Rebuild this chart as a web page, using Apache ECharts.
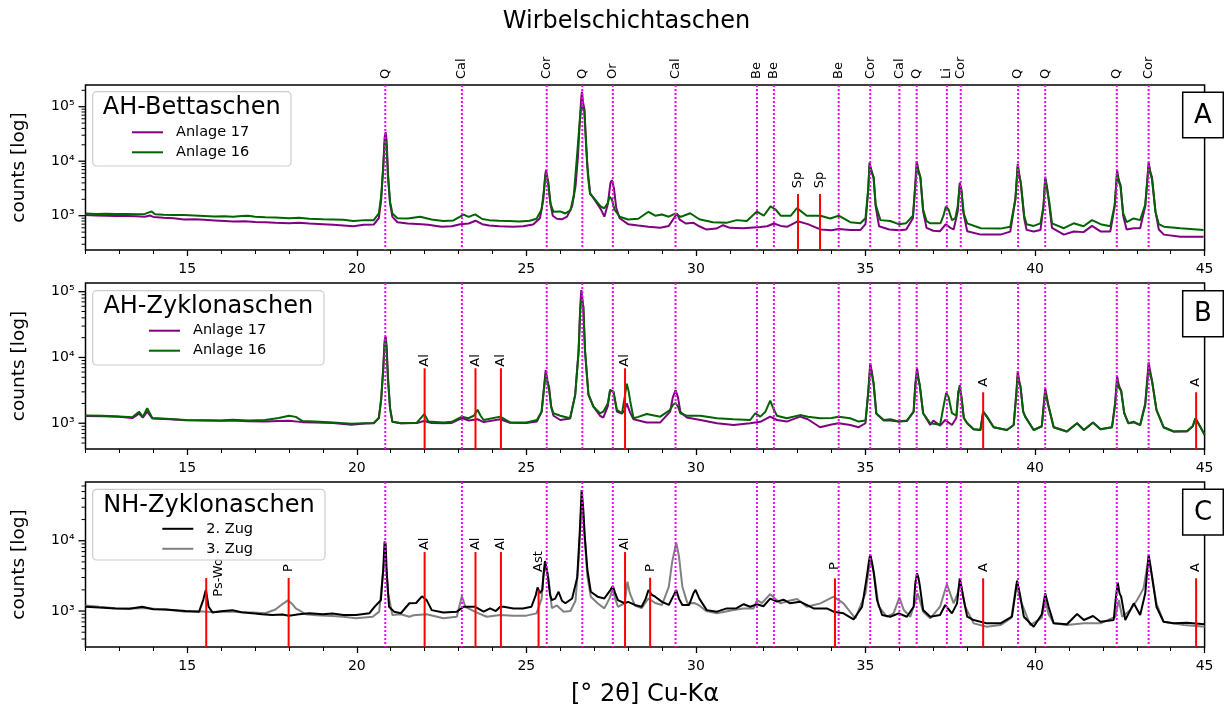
<!DOCTYPE html>
<html><head><meta charset="utf-8">
<script src="https://cdn.jsdelivr.net/npm/echarts@6/dist/echarts.min.js"></script>
<style>html,body{margin:0;padding:0;background:#fff}#c{width:1224px;height:711px}</style>
</head><body><div id="c"></div>
<script>
// ---------- tick values / labels ----------
const xMajorTicks = [15, 20, 25, 30, 35, 40, 45];
const yMajorTicks = [1000, 10000, 100000];
const yMinorTicks = [200,300,400,500,600,700,800,900,2000,3000,4000,5000,6000,7000,8000,9000,
  20000,30000,40000,50000,60000,70000,80000,90000,200000];
const supDigits = {2:'²',3:'³',4:'⁴',5:'⁵'};

// ---------- phase reference lines (all panels) ----------
const phaseX     = [20.84, 23.10, 25.60, 26.65, 27.55, 29.40, 31.80, 32.30, 34.21, 35.14, 36.00, 36.51, 37.40, 37.81, 39.50, 40.30, 42.41, 43.35];
const phaseNames = ['Q','Cal','Cor','Q','Or','Cal','Be','Be','Be','Cor','Cal','Q','Li','Cor','Q','Q','Q','Cor'];

// ---------- red marker lines: [x, top, labelX, labelY] ----------
const redA = [[33.01, 2500, 33.01, 3180], [33.66, 2500, 33.66, 3180]];
const redALabels = ['Sp', 'Sp'];
const redB = [[22.00, 6850, 22.00, 7240], [23.50, 6850, 23.50, 7240], [24.25, 6850, 24.25, 7240], [27.91, 6850, 27.91, 7240],
              [38.47, 2960, 38.47, 3600], [44.75, 2960, 44.75, 3600]];
const redBLabels = ['Al', 'Al', 'Al', 'Al', 'A', 'A'];
const redC = [[15.56, 2950, 15.94, 1600], [17.99, 2950, 17.99, 3600], [22.00, 6900, 22.00, 7370], [23.50, 6900, 23.50, 7370],
              [24.25, 6900, 24.25, 7370], [25.36, 2000, 25.36, 3600], [27.91, 6900, 27.91, 7370], [28.65, 2970, 28.65, 3600],
              [34.10, 2920, 34.10, 3830], [38.47, 2920, 38.47, 3600], [44.75, 2920, 44.75, 3600]];
const redCLabels = ['Ps-Wo', 'P', 'Al', 'Al', 'Al', 'Ast', 'Al', 'P', 'P', 'A', 'A'];

// ---------- panel A: AH-Bettaschen ----------
const a17 = [[12.0,1030],[12.3,1010],[12.6,1000],[12.9,990],[13.2,985],[13.5,975],[13.75,960],[13.9,1010],[14.0,950],[14.3,920],[14.6,900],[14.9,850],[15.2,860],[15.5,840],[15.8,820],[16.1,800],[16.35,780],[16.7,790],[17.0,770],[17.3,760],[17.6,740],[18.0,725],[18.3,740],[18.6,720],[19.0,700],[19.3,680],[19.6,660],[19.9,640],[20.2,680],[20.5,690],[20.65,900],[20.72,2000],[20.78,8000],[20.82,27000],[20.85,34000],[20.88,24000],[20.92,6000],[20.98,1700],[21.05,950],[21.2,760],[21.5,720],[21.9,700],[22.1,680],[22.5,630],[22.8,640],[23.05,700],[23.3,720],[23.5,810],[23.7,700],[23.9,660],[24.2,640],[24.6,630],[24.9,640],[25.2,690],[25.4,900],[25.5,2000],[25.55,5000],[25.58,6900],[25.62,5000],[25.65,4100],[25.7,1800],[25.78,1000],[25.9,880],[26.05,860],[26.2,960],[26.35,1500],[26.45,3500],[26.52,12000],[26.58,60000],[26.62,150000],[26.64,188000],[26.67,120000],[26.71,93000],[26.75,30000],[26.8,8000],[26.88,2600],[27.0,2000],[27.2,1300],[27.3,960],[27.4,1600],[27.48,4000],[27.52,4500],[27.58,3300],[27.65,1400],[27.75,900],[28.0,700],[28.3,660],[28.6,630],[28.95,600],[29.2,650],[29.35,900],[29.44,1100],[29.52,850],[29.7,720],[29.93,740],[30.1,640],[30.3,560],[30.6,580],[30.8,670],[31.0,600],[31.4,590],[31.9,620],[32.1,640],[32.3,720],[32.5,650],[32.7,630],[33.0,790],[33.3,700],[33.67,560],[34.0,540],[34.21,570],[34.55,545],[34.85,545],[35.0,700],[35.08,3000],[35.12,9400],[35.17,7000],[35.24,5000],[35.3,1500],[35.4,640],[35.7,560],[36.0,540],[36.2,560],[36.4,900],[36.47,4000],[36.51,10000],[36.56,7000],[36.62,5000],[36.7,1200],[36.8,600],[37.0,530],[37.2,520],[37.37,700],[37.5,600],[37.6,560],[37.72,1200],[37.78,4000],[37.83,3000],[37.88,1200],[38.0,520],[38.4,450],[38.98,450],[39.27,510],[39.42,2000],[39.49,9000],[39.53,6000],[39.58,4000],[39.68,900],[39.75,550],[39.96,515],[40.16,546],[40.25,1500],[40.3,5200],[40.35,3500],[40.4,2000],[40.5,600],[40.85,450],[41.14,515],[41.43,500],[41.68,650],[41.93,515],[42.22,515],[42.35,1500],[42.42,6800],[42.47,4500],[42.52,3700],[42.6,1000],[42.7,560],[42.91,590],[43.1,590],[43.25,1500],[43.35,9500],[43.4,6500],[43.45,5000],[43.55,1200],[43.65,560],[43.8,450],[44.29,412],[44.97,412]];
const a16 = [[12.0,1100],[12.3,1080],[12.6,1090],[12.9,1070],[13.2,1080],[13.5,1060],[13.75,1080],[13.95,1200],[14.05,1060],[14.3,1040],[14.6,1030],[14.9,1030],[15.2,1010],[15.5,990],[15.8,970],[16.1,980],[16.35,960],[16.6,990],[16.8,1000],[17.0,960],[17.3,940],[17.6,930],[18.0,900],[18.3,920],[18.6,880],[19.0,860],[19.3,850],[19.6,840],[19.9,800],[20.25,830],[20.5,830],[20.65,1100],[20.72,2300],[20.78,8000],[20.82,21000],[20.85,25000],[20.88,18000],[20.92,5000],[20.98,1800],[21.05,1100],[21.2,900],[21.5,890],[21.87,960],[22.2,850],[22.55,800],[22.85,820],[23.15,1050],[23.3,950],[23.49,1060],[23.7,870],[23.9,830],[24.2,810],[24.5,800],[24.8,780],[25.1,810],[25.3,880],[25.45,1300],[25.52,3000],[25.57,6000],[25.61,5000],[25.65,3500],[25.72,1600],[25.8,1180],[26.0,1200],[26.15,1100],[26.3,1250],[26.4,2400],[26.5,14000],[26.57,50000],[26.61,90000],[26.64,107000],[26.67,95000],[26.71,85000],[26.76,20000],[26.82,5000],[26.88,2500],[27.0,2080],[27.2,1460],[27.3,1370],[27.4,1700],[27.45,2230],[27.52,2000],[27.6,1300],[27.75,960],[28.0,850],[28.3,880],[28.6,1180],[28.8,1000],[29.0,1050],[29.2,960],[29.4,1100],[29.55,950],[29.83,1110],[30.1,860],[30.5,760],[30.9,740],[31.2,830],[31.5,800],[31.8,1190],[32.0,1000],[32.2,1480],[32.35,1300],[32.5,1000],[32.8,1000],[32.98,1380],[33.27,1000],[33.67,1000],[33.96,890],[34.21,1000],[34.55,760],[34.85,725],[35.0,900],[35.08,3000],[35.12,8500],[35.17,6500],[35.24,5000],[35.3,1600],[35.44,830],[35.73,800],[35.98,700],[36.2,730],[36.4,1000],[36.47,3500],[36.52,8500],[36.56,6500],[36.62,5000],[36.7,1300],[36.8,800],[36.91,725],[37.21,725],[37.3,1000],[37.37,1480],[37.45,1300],[37.55,830],[37.65,900],[37.72,1500],[37.78,3650],[37.83,2800],[37.9,1100],[38.0,725],[38.4,590],[38.98,580],[39.27,630],[39.42,2000],[39.49,8000],[39.53,5500],[39.58,4000],[39.68,1000],[39.75,700],[39.96,650],[40.16,725],[40.25,1500],[40.3,4500],[40.35,3200],[40.42,1800],[40.5,725],[40.85,590],[41.14,725],[41.43,640],[41.68,830],[41.93,700],[42.22,640],[42.35,1600],[42.42,6000],[42.47,4200],[42.52,3500],[42.6,1100],[42.7,760],[42.91,890],[43.1,830],[43.25,1600],[43.35,8500],[43.4,6000],[43.45,4600],[43.55,1200],[43.65,700],[43.8,630],[44.29,590],[44.97,546]];

// ---------- panel B: AH-Zyklonaschen ----------
const b17 = [[12.0,1290],[12.5,1280],[13.0,1250],[13.38,1200],[13.58,1400],[13.69,1220],[13.82,1500],[13.97,1180],[14.5,1150],[14.95,1110],[15.5,1100],[16.0,1090],[16.33,1100],[16.8,1070],[17.3,1060],[17.7,1080],[18.0,1090],[18.4,1040],[18.76,1030],[19.3,1010],[19.84,950],[20.24,990],[20.5,1000],[20.65,1200],[20.72,2400],[20.78,7000],[20.82,18000],[20.85,21000],[20.88,15000],[20.92,5000],[20.98,1700],[21.05,1050],[21.3,1000],[21.77,1010],[21.99,1080],[22.2,1010],[22.55,1000],[22.8,1010],[23.1,1200],[23.3,1100],[23.56,1150],[23.74,1040],[24.23,1150],[24.52,1020],[25.0,1010],[25.31,1060],[25.45,1500],[25.52,3500],[25.57,6400],[25.62,4500],[25.67,3500],[25.73,1800],[25.8,1300],[26.0,1120],[26.29,1180],[26.44,2700],[26.54,12600],[26.59,60000],[26.62,106000],[26.65,80000],[26.68,59000],[26.73,12600],[26.83,2700],[26.98,1780],[27.17,1300],[27.27,1220],[27.4,1800],[27.47,3200],[27.57,3000],[27.67,1500],[27.82,1400],[27.9,1600],[27.96,2000],[28.06,1450],[28.16,1150],[28.55,1030],[28.95,1030],[29.24,1500],[29.32,2500],[29.4,3200],[29.47,2500],[29.54,1500],[29.73,1220],[30.13,1120],[30.62,1000],[31.11,940],[31.6,1000],[31.9,1050],[32.19,1260],[32.39,1120],[32.68,1060],[33.07,1260],[33.3,1150],[33.66,870],[34.0,960],[34.21,1000],[34.55,940],[34.8,870],[35.0,1000],[35.08,3000],[35.14,8170],[35.19,6000],[35.24,4000],[35.32,1400],[35.54,1100],[35.73,1100],[35.98,1060],[36.22,1080],[36.42,1500],[36.47,4000],[36.52,6860],[36.56,5000],[36.6,3800],[36.7,1420],[36.91,940],[37.0,1100],[37.2,920],[37.35,1120],[37.55,940],[37.68,1200],[37.74,3000],[37.78,3500],[37.83,2500],[37.9,1200],[38.0,1000],[38.19,810],[38.39,790],[38.47,1500],[38.58,1260],[38.78,870],[39.17,790],[39.37,940],[39.45,3000],[39.49,6200],[39.53,4500],[39.57,3650],[39.65,1500],[39.71,1260],[39.96,790],[40.2,900],[40.26,2000],[40.3,3400],[40.35,2500],[40.4,1790],[40.55,870],[40.94,750],[41.24,1000],[41.44,790],[41.71,1030],[41.93,810],[42.27,870],[42.36,2000],[42.42,5200],[42.47,3800],[42.54,3100],[42.63,1420],[42.75,1000],[42.91,1030],[43.1,940],[43.25,2000],[43.35,8400],[43.4,6000],[43.45,4400],[43.58,1600],[43.79,870],[44.09,750],[44.48,750],[44.65,900],[44.73,1190],[44.88,870],[45.0,666]];
const b16 = [[12.0,1310],[12.5,1300],[13.0,1270],[13.38,1230],[13.58,1500],[13.69,1250],[13.82,1700],[13.97,1200],[14.5,1160],[14.95,1120],[15.5,1110],[16.0,1100],[16.33,1130],[16.8,1100],[17.3,1120],[17.7,1200],[18.0,1300],[18.2,1250],[18.4,1080],[18.76,1060],[19.3,1030],[19.84,980],[20.24,1000],[20.5,1010],[20.65,1200],[20.72,2300],[20.78,6500],[20.82,16000],[20.85,18000],[20.88,13000],[20.92,4500],[20.98,1700],[21.05,1050],[21.3,1000],[21.77,1020],[21.99,1380],[22.11,1060],[22.55,1030],[22.8,1050],[23.1,1260],[23.29,1190],[23.45,1300],[23.56,1600],[23.65,1300],[23.74,1120],[24.23,1260],[24.52,1030],[25.0,1030],[25.31,1120],[25.45,1500],[25.52,3300],[25.57,5600],[25.62,4200],[25.67,3300],[25.73,1800],[25.8,1420],[26.0,1300],[26.29,1190],[26.44,2700],[26.54,12000],[26.59,55000],[26.62,75000],[26.65,70000],[26.68,59000],[26.73,12600],[26.83,2800],[26.98,1780],[27.17,1420],[27.27,1500],[27.4,2000],[27.47,3200],[27.57,3000],[27.67,1600],[27.82,1420],[27.9,2500],[27.96,4000],[28.02,3000],[28.06,2200],[28.16,1190],[28.3,1250],[28.55,1380],[28.95,1260],[29.24,1600],[29.32,1900],[29.4,2030],[29.47,1800],[29.54,1420],[29.73,1300],[30.13,1300],[30.62,1190],[31.11,1150],[31.6,1120],[31.75,1420],[31.9,1260],[32.05,1500],[32.19,2200],[32.3,1600],[32.39,1300],[32.68,1190],[33.07,1330],[33.3,1260],[33.67,1190],[34.0,1200],[34.21,1260],[34.55,1190],[34.8,1060],[35.0,1100],[35.08,2800],[35.14,6860],[35.19,5500],[35.24,4000],[35.32,1400],[35.54,1120],[35.73,1150],[35.98,1060],[36.22,1100],[36.42,1500],[36.47,3600],[36.52,5700],[36.56,4600],[36.6,3800],[36.7,1420],[36.91,1000],[37.2,950],[37.3,1800],[37.38,2900],[37.45,2500],[37.55,1420],[37.68,1300],[37.74,3000],[37.78,3800],[37.83,2500],[37.9,1200],[38.0,1000],[38.19,810],[38.39,790],[38.47,1500],[38.58,1260],[38.78,870],[39.17,790],[39.37,940],[39.45,2800],[39.49,5200],[39.53,4200],[39.57,3650],[39.65,1500],[39.71,1260],[39.96,790],[40.2,900],[40.26,1900],[40.3,2900],[40.35,2300],[40.4,1790],[40.55,870],[40.94,750],[41.24,1000],[41.44,790],[41.71,1030],[41.93,810],[42.27,870],[42.36,1900],[42.42,4300],[42.47,3500],[42.54,3100],[42.63,1420],[42.75,1000],[42.91,1060],[43.1,940],[43.25,1900],[43.35,7000],[43.4,5500],[43.45,4400],[43.58,1600],[43.79,870],[44.09,750],[44.48,760],[44.65,900],[44.73,1190],[44.88,870],[45.0,666]];

// ---------- panel C: NH-Zyklonaschen ----------
const c2 = [[12.0,1150],[12.4,1120],[12.88,1090],[13.3,1080],[13.67,1150],[14.0,1060],[14.36,1050],[14.95,1000],[15.35,980],[15.47,1430],[15.55,2000],[15.63,1150],[15.75,950],[16.0,990],[16.33,1030],[16.6,960],[16.92,930],[17.2,900],[17.51,880],[17.8,890],[18.0,860],[18.3,900],[18.6,930],[19.0,900],[19.28,920],[19.6,880],[19.98,880],[20.37,930],[20.56,1200],[20.71,1430],[20.78,4000],[20.82,9700],[20.85,9000],[20.88,3830],[20.95,1150],[21.1,980],[21.3,930],[21.55,1290],[21.75,1300],[21.92,1620],[22.06,1430],[22.21,1030],[22.55,950],[22.95,980],[23.15,1150],[23.49,1150],[23.74,980],[23.93,1090],[24.1,1000],[24.23,1150],[24.33,1150],[24.62,1090],[24.9,1090],[25.15,1150],[25.28,1700],[25.33,2170],[25.4,1800],[25.47,2000],[25.51,3500],[25.55,5140],[25.62,3500],[25.7,1700],[25.75,1430],[25.85,1500],[25.95,1880],[26.05,1400],[26.15,1290],[26.35,1510],[26.5,3000],[26.58,15000],[26.63,52500],[26.68,27400],[26.72,12000],[26.8,3830],[26.9,1880],[27.1,1600],[27.3,1510],[27.45,1900],[27.55,2270],[27.62,1800],[27.7,1430],[27.9,1290],[28.0,1350],[28.2,1220],[28.4,1150],[28.52,1500],[28.6,1990],[28.7,1700],[28.8,1600],[29.0,1350],[29.2,1220],[29.35,1700],[29.42,1990],[29.5,1500],[29.6,1220],[29.8,1220],[29.93,1800],[29.99,2000],[30.1,1500],[30.32,1030],[30.62,980],[30.91,1090],[31.2,1100],[31.41,1250],[31.6,1150],[31.8,1250],[31.99,1170],[32.19,1500],[32.39,1360],[32.58,1450],[32.78,1290],[33.07,1360],[33.47,1090],[33.86,1090],[34.06,978],[34.35,927],[34.65,762],[34.9,1152],[35.04,3080],[35.1,5000],[35.14,6400],[35.19,5000],[35.24,3620],[35.34,1434],[35.49,877],[35.73,830],[35.98,927],[36.22,830],[36.42,1152],[36.47,2500],[36.52,3430],[36.56,3000],[36.6,2340],[36.7,1033],[36.91,830],[37.2,877],[37.35,1217],[37.55,927],[37.7,1286],[37.78,2920],[37.88,1600],[38.0,830],[38.19,745],[38.58,668],[38.98,668],[39.32,830],[39.42,1800],[39.47,2700],[39.55,1785],[39.67,830],[39.96,598],[40.2,900],[40.3,1785],[40.4,1152],[40.55,668],[40.94,650],[41.24,906],[41.44,745],[41.71,849],[41.93,705],[42.32,745],[42.38,1500],[42.44,2530],[42.49,1800],[42.54,1600],[42.66,745],[42.91,1286],[43.1,877],[43.25,1785],[43.35,6300],[43.4,4500],[43.45,3080],[43.58,1152],[43.79,705],[44.09,668],[44.48,680],[45.0,650]];
const c3 = [[12.0,1200],[12.4,1150],[12.88,1100],[13.3,1090],[13.67,1100],[14.0,1080],[14.36,1050],[14.95,980],[15.35,990],[15.55,980],[15.75,970],[16.0,980],[16.33,980],[16.6,960],[16.92,950],[17.3,930],[17.6,1050],[17.8,1250],[17.97,1420],[18.1,1250],[18.2,1090],[18.5,900],[18.8,870],[19.28,850],[19.6,830],[19.98,790],[20.47,830],[20.66,980],[20.76,3000],[20.83,6600],[20.87,4000],[20.92,1790],[21.05,880],[21.3,900],[21.55,830],[21.67,870],[22.06,900],[22.55,790],[22.95,830],[23.03,1200],[23.1,1620],[23.2,1150],[23.54,950],[23.83,830],[24.23,877],[24.6,860],[25.0,860],[25.3,927],[25.45,1500],[25.5,3000],[25.57,4510],[25.65,3000],[25.75,1100],[25.9,1200],[26.1,978],[26.3,1000],[26.45,1400],[26.55,6000],[26.62,30000],[26.65,34000],[26.7,15000],[26.8,3080],[26.9,1600],[27.1,1290],[27.3,1091],[27.45,1500],[27.55,2070],[27.62,1500],[27.7,1150],[27.9,1290],[27.98,2610],[28.05,1800],[28.2,1200],[28.4,1100],[28.6,1510],[28.8,1300],[29.0,1220],[29.2,2200],[29.3,5000],[29.42,9370],[29.5,6000],[29.6,2220],[29.75,1290],[29.95,1300],[30.1,1200],[30.3,1000],[30.62,927],[31.11,1033],[31.4,1090],[31.7,1091],[31.8,1434],[31.95,1300],[32.19,1740],[32.49,1286],[32.75,1400],[32.98,1480],[33.27,1152],[33.67,1286],[34.06,1600],[34.35,1286],[34.7,787],[35.0,1785],[35.1,4000],[35.16,5300],[35.26,3250],[35.39,1152],[35.63,830],[35.83,927],[36.0,1560],[36.13,1033],[36.32,830],[36.48,1400],[36.54,1785],[36.7,978],[36.91,787],[37.2,1152],[37.4,2420],[37.6,1286],[37.72,1800],[37.8,2700],[37.94,1152],[38.19,668],[38.58,598],[38.98,632],[39.3,800],[39.45,2420],[39.57,1434],[39.86,632],[40.2,800],[40.3,1434],[40.4,900],[40.55,668],[40.94,632],[41.44,668],[41.93,668],[42.37,830],[42.47,1434],[42.57,830],[42.81,1033],[43.01,1434],[43.2,2100],[43.35,5800],[43.45,3080],[43.58,1286],[43.79,705],[44.39,632],[45.0,598]];

// ---------- chart ----------
const FONT = 'DejaVu Sans';
const X_MIN = 12, X_MAX = 45;
const gridBoxes = [{top: 85, height: 165}, {top: 283, height: 166}, {top: 482, height: 165}];
const yRanges = [[235, 250000], [406, 135500], [308, 68400]];

const grid = gridBoxes.map(g => ({left: 85.5, right: 19.4, top: g.top, height: g.height, show: true,
  borderColor: '#000', borderWidth: 1.5, backgroundColor: 'transparent'}));

const xAxis = [];
for (let i = 0; i < 3; i++) {
  xAxis.push({type: 'value', gridIndex: i, min: X_MIN, max: X_MAX, position: 'bottom',
    axisLine: {show: false}, splitLine: {show: false},
    axisTick: {show: true, length: 6, lineStyle: {color: '#000', width: 1.3}, customValues: xMajorTicks},
    axisLabel: {show: true, color: '#000', fontFamily: FONT, fontSize: 14, margin: 12, customValues: xMajorTicks},
    name: i === 2 ? '[° 2θ] Cu-Kα' : '', nameLocation: 'middle', nameGap: 36,
    nameTextStyle: {fontFamily: FONT, fontSize: 24, color: '#000'}});
}
for (let i = 0; i < 3; i++) {
  xAxis.push({type: 'value', gridIndex: i, min: X_MIN, max: X_MAX, interval: 1, position: 'bottom',
    axisLine: {show: false}, splitLine: {show: false}, axisLabel: {show: false},
    axisTick: {show: true, length: 4, lineStyle: {color: '#000', width: 1}}});
}
const yAxis = yRanges.map((r, i) => ({type: 'log', logBase: 10, gridIndex: i, min: r[0], max: r[1],
  axisLine: {show: false}, splitLine: {show: false}, axisTick: {show: false}, minorTick: {show: false},
  axisLabel: {color: '#000', fontFamily: FONT, fontSize: 14, margin: 11,
    formatter: v => { const e = Math.log10(v); const re = Math.round(e);
      return (Math.abs(e - re) < 1e-6 && yMajorTicks.indexOf(Math.pow(10, re)) >= 0) ? '10' + supDigits[re] : ''; }},
  name: 'counts [log]', nameLocation: 'middle', nameGap: 57, nameRotate: 90,
  nameTextStyle: {fontFamily: FONT, fontSize: 18.5, color: '#000'}}));

function lineSeries(name, data, gi, color, z) {
  return {type: 'line', name, data, xAxisIndex: gi, yAxisIndex: gi, showSymbol: false, symbol: 'none',
    color, lineStyle: {color, width: 2}, z, animation: false, silent: true};
}
function yTickSeries(gi) {
  const r = yRanges[gi];
  const vals = yMajorTicks.concat(yMinorTicks).filter(v => v >= r[0] && v <= r[1]);
  return {type: 'custom', xAxisIndex: gi, yAxisIndex: gi, silent: true, clip: false, z: 8,
    data: vals.map(v => [X_MIN, v]),
    renderItem(params, api) {
      const cs = params.coordSys;
      const v = api.value(1);
      const p = api.coord([X_MIN, v]);
      const major = yMajorTicks.indexOf(v) >= 0;
      const len = major ? 7 : 4;
      return {type: 'line', shape: {x1: cs.x - len, y1: p[1], x2: cs.x, y2: p[1]},
        style: {stroke: '#000', lineWidth: major ? 1.3 : 1}};
    }};
}
function phaseSeries(gi, withLabels) {
  return {type: 'custom', xAxisIndex: gi, yAxisIndex: gi, silent: true, clip: false, z: 6,
    data: phaseX.map(x => [x, 1000]),
    renderItem(params, api) {
      const cs = params.coordSys;
      const x = api.coord([api.value(0), api.value(1)])[0];
      const children = [{type: 'line', shape: {x1: x, y1: cs.y, x2: x, y2: cs.y + cs.height},
        style: {stroke: '#ff00ff', lineWidth: 2, lineDash: [2, 2]}}];
      if (withLabels) children.push({type: 'text', x: x, y: cs.y - 6, rotation: Math.PI / 2,
        style: {text: phaseNames[params.dataIndex], fontFamily: FONT, fontSize: 13, fill: '#000',
          align: 'left', verticalAlign: 'middle'}});
      return {type: 'group', children};
    }};
}
function redSeries(gi, lines, labels) {
  return {type: 'custom', xAxisIndex: gi, yAxisIndex: gi, silent: true, clip: false, z: 7,
    data: lines,
    renderItem(params, api) {
      const cs = params.coordSys;
      const top = api.coord([api.value(0), api.value(1)]);
      const lab = api.coord([api.value(2), api.value(3)]);
      return {type: 'group', children: [
        {type: 'line', shape: {x1: top[0], y1: cs.y + cs.height, x2: top[0], y2: top[1]},
          style: {stroke: '#ff0000', lineWidth: 2}},
        {type: 'text', x: lab[0], y: lab[1], rotation: Math.PI / 2,
          style: {text: labels[params.dataIndex], fontFamily: FONT, fontSize: 13, fill: '#000',
            align: 'left', verticalAlign: 'middle'}}]};
    }};
}

const PURPLE = '#800080', GREEN = '#006400';
const series = [
  lineSeries('Anlage 17', a17, 0, PURPLE, 2), lineSeries('Anlage 16', a16, 0, GREEN, 3),
  lineSeries('Anlage 17', b17, 1, PURPLE, 2), lineSeries('Anlage 16', b16, 1, GREEN, 3),
  lineSeries('3. Zug', c3, 2, '#808080', 2), lineSeries('2. Zug', c2, 2, '#000000', 3),
  phaseSeries(0, true), phaseSeries(1, false), phaseSeries(2, false),
  redSeries(0, redA, redALabels), redSeries(1, redB, redBLabels), redSeries(2, redC, redCLabels),
  yTickSeries(0), yTickSeries(1), yTickSeries(2)
];

function legendAt(names, left, top) {
  return {data: names, orient: 'vertical', left, top, itemWidth: 31, itemHeight: 2, icon: 'rect',
    itemGap: 4, padding: 0, selectedMode: false, z: 20,
    textStyle: {fontFamily: FONT, fontSize: 14.5, lineHeight: 16, color: '#000', padding: [0, 0, 0, 8]}};
}
const legend = [
  legendAt(['Anlage 17', 'Anlage 16'], 132, 124.3),
  legendAt(['Anlage 17', 'Anlage 16'], 149, 322.7),
  legendAt(['2. Zug', '3. Zug'], 162.3, 520.8)
];

function legendBox(x, y, w, h, title, tx, ty) {
  return [
    {type: 'rect', z: 15, shape: {x, y, width: w, height: h, r: 4},
      style: {fill: 'rgba(255,255,255,0.85)', stroke: '#cccccc', lineWidth: 1.2}},
    {type: 'text', z: 16, x: tx, y: ty, style: {text: title, fontFamily: FONT, fontSize: 24, fill: '#000',
      align: 'center', verticalAlign: 'middle'}}
  ];
}
function letterBox(y, h, letter) {
  return [
    {type: 'rect', z: 15, shape: {x: 1182.7, y, width: 40.6, height: h},
      style: {fill: '#fff', stroke: '#000', lineWidth: 1.5}},
    {type: 'text', z: 16, x: 1203, y: y + h / 2 + 1, style: {text: letter, fontFamily: FONT, fontSize: 26,
      fill: '#000', align: 'center', verticalAlign: 'middle'}}
  ];
}
const graphic = [
  {type: 'text', x: 626.5, y: 21.5, style: {text: 'Wirbelschichtaschen', fontFamily: FONT, fontSize: 24,
    fill: '#000', align: 'center', verticalAlign: 'middle'}},
  ...legendBox(92.7, 91.7, 198.3, 74.3, 'AH-Bettaschen', 191.7, 108.2),
  ...legendBox(92.7, 290.7, 231.3, 74.3, 'AH-Zyklonaschen', 208.3, 307.2),
  ...legendBox(92.7, 489.3, 232.3, 70.7, 'NH-Zyklonaschen', 209, 505.3),
  ...letterBox(92.3, 45.4, 'A'),
  ...letterBox(290.7, 46, 'B'),
  ...letterBox(489.3, 45.7, 'C')
];

const chart = echarts.init(document.getElementById('c'), null, {renderer: 'canvas'});
chart.setOption({
  animation: false,
  backgroundColor: '#fff',
  textStyle: {fontFamily: FONT},
  grid, xAxis, yAxis, series, legend, graphic
});
</script>
</body></html>
